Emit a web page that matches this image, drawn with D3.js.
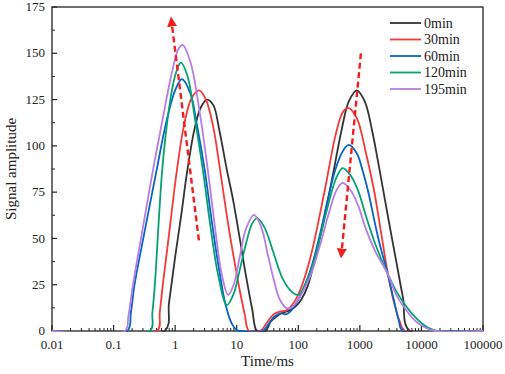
<!DOCTYPE html>
<html>
<head>
<script src="https://d3js.org/d3.v7.min.js"></script>
<style>
  body { margin: 0; background: #fff; }
</style>
</head>
<body>
<div id="chart"></div>
<script>
// series: [time in ms, signal amplitude]
var s0min = [[0.01,0],[0.676,0],[0.794,15],[1,40],[1.26,63],[1.58,87],[2.09,110],[2.63,121],[3.31,125],[4.17,122],[5.25,108],[6.92,87],[8.71,71],[11.2,50],[14.1,30],[17.8,12],[21.4,0],[29.5,0],[35.5,5],[44.7,8],[56.2,10],[70.8,11],[89.1,13],[112,17],[141,24],[200,43],[282,66],[363,84],[501,108],[661,124],[891,130],[1202,124],[1585,108],[2089,87],[2818,63],[3981,36],[5012,18],[6457,0],[100000,0]];
var s30min = [[0.01,0],[0.507,0],[0.562,10],[0.631,25],[0.794,52],[1.07,87],[1.41,112],[1.86,126],[2.45,130],[3.16,125],[4.17,110],[5.37,87],[7.08,60],[8.91,40],[11.2,22],[13.5,9],[15.8,0],[24,0],[31.6,5],[39.8,9],[50.1,10.5],[63.1,11],[79.4,14],[107,22],[158,40],[269,76],[398,105],[525,118],[646,120.5],[891,115],[1259,96],[1698,76],[2239,52],[2818,32],[3548,16],[4467,5],[5370,0],[100000,0]];
var s60min = [[0.01,0],[0.166,0],[0.191,10],[0.219,25],[0.316,53],[0.501,87],[0.708,112],[1,130],[1.29,136],[1.78,128],[2.24,112],[3.02,87],[3.98,58],[5.25,32],[6.61,14],[8.32,4],[10,0.5],[11.2,0],[26.3,0],[33.1,4],[41.7,8],[52.5,9.5],[63.1,9],[74.1,10.5],[100,17],[158,33],[224,52],[302,71],[398,87],[525,97],[661,100.5],[891,96],[1122,86],[1349,76],[1995,50],[2818,31],[3548,17],[4266,6],[5012,0],[100000,0]];
var s120min = [[0.01,0],[0.389,0],[0.427,10],[0.468,25],[0.617,87],[0.794,120],[1,138],[1.24,145],[1.58,138],[2.09,115],[2.82,87],[3.8,55],[5.01,30],[6.92,14],[8.91,20],[11.2,33],[14.1,47],[17.8,58],[21.4,61],[28.2,56],[39.8,42],[56.2,28],[79.4,21],[100,19.5],[158,32],[224,50],[316,70],[417,83],[525,88],[708,84],[933,76],[1259,62],[1778,47],[2818,31],[3981,21],[5754,13],[7943,7.5],[11220,3],[15850,0.5],[18620,0],[100000,0]];
var s195min = [[0.01,0],[0.153,0],[0.174,8],[0.207,25],[0.282,51],[0.437,87],[0.631,115],[0.891,140],[1.12,152],[1.32,154.5],[1.78,145],[2.51,118],[3.39,87],[4.47,55],[5.62,32],[7.24,19.5],[8.91,25],[11.2,40],[14.1,55],[19.1,62.7],[25.1,56],[31.6,42],[39.8,28],[50.1,17],[64.6,12.4],[79.4,13],[100,17],[158,30],[224,46],[316,64],[417,76],[525,80],[708,76],[933,68],[1259,55],[1778,43],[2818,31],[3981,19],[5754,11],[7943,5.5],[11220,2],[16600,0],[100000,0]];

var seriesNames = ["0min", "30min", "60min", "120min", "195min"];
var seriesData = [s0min, s30min, s60min, s120min, s195min];
var colors = ["#333333", "#f53838", "#0763c4", "#06a172", "#b77de6"];

var xTicks = [0.01, 0.1, 1, 10, 100, 1000, 10000, 100000];
var yTicks = [0, 25, 50, 75, 100, 125, 150, 175];

// dashed arrows: [from time, from amp, to time, to amp]
var arrows = [[2.43, 49, 0.89, 165], [1040, 150, 510, 44]];

var FONT = "'Liberation Serif', 'Times New Roman', serif";

var margin = { top: 7, right: 22, bottom: 43, left: 52 };
var width = 505 - margin.left - margin.right;
var height = 374 - margin.top - margin.bottom;

var svg = d3.select("#chart").append("svg")
  .attr("width", 505).attr("height", 374)
  .attr("font-family", FONT);

var defs = svg.append("defs");
defs.append("marker")
  .attr("id", "ah")
  .attr("viewBox", "0 0 10 10")
  .attr("refX", 1).attr("refY", 5)
  .attr("markerWidth", 4.2).attr("markerHeight", 4.2)
  .attr("markerUnits", "strokeWidth")
  .attr("orient", "auto")
  .append("path").attr("d", "M0,0L10,5L0,10Z").attr("fill", "#f01e1e");

var g = svg.append("g").attr("transform", "translate(" + margin.left + "," + margin.top + ")");

var x = d3.scaleLog().domain([0.01, 100000]).range([0, width]);
var y = d3.scaleLinear().domain([0, 175]).range([height, 0]);

// frame
g.append("rect")
  .attr("width", width).attr("height", height)
  .attr("fill", "none").attr("stroke", "#222").attr("stroke-width", 1.3);

// x axis, ticks inward
var minorX = [];
for (var e = -2; e < 5; e++) {
  for (var k = 2; k <= 9; k++) minorX.push(k * Math.pow(10, e));
}
var xAxis = g.append("g").attr("transform", "translate(0," + height + ")");
xAxis.selectAll("line.minor").data(minorX).enter().append("line")
  .attr("x1", function(d) { return x(d); }).attr("x2", function(d) { return x(d); })
  .attr("y1", 0).attr("y2", -3).attr("stroke", "#222").attr("stroke-width", 1);
xAxis.selectAll("line.major").data(xTicks).enter().append("line")
  .attr("x1", function(d) { return x(d); }).attr("x2", function(d) { return x(d); })
  .attr("y1", 0).attr("y2", -6).attr("stroke", "#222").attr("stroke-width", 1.2);
xAxis.selectAll("text").data(xTicks).enter().append("text")
  .attr("x", function(d) { return x(d); })
  .attr("y", 18)
  .attr("text-anchor", "middle")
  .attr("font-size", "13px")
  .attr("fill", "#222")
  .text(function(d) { return String(d); });

// y axis
var minorY = d3.range(12.5, 175, 25);
var yAxis = g.append("g");
yAxis.selectAll("line.minor").data(minorY).enter().append("line")
  .attr("x1", 0).attr("x2", 3)
  .attr("y1", function(d) { return y(d); }).attr("y2", function(d) { return y(d); })
  .attr("stroke", "#222").attr("stroke-width", 1);
yAxis.selectAll("line.major").data(yTicks).enter().append("line")
  .attr("x1", 0).attr("x2", 5)
  .attr("y1", function(d) { return y(d); }).attr("y2", function(d) { return y(d); })
  .attr("stroke", "#222").attr("stroke-width", 1.2);
yAxis.selectAll("text").data(yTicks).enter().append("text")
  .attr("x", -7)
  .attr("y", function(d) { return y(d); })
  .attr("dy", "0.32em")
  .attr("text-anchor", "end")
  .attr("font-size", "13px")
  .attr("fill", "#222")
  .text(function(d) { return d; });

// curves, drawn over the frame so the zero stretches show on the axis
var line = d3.line()
  .x(function(d) { return x(d[0]); })
  .y(function(d) { return y(d[1]); })
  .curve(d3.curveCatmullRom.alpha(0.5));

g.append("clipPath").attr("id", "clip")
  .append("rect").attr("x", 0).attr("y", -10).attr("width", width).attr("height", height + 11);

seriesData.forEach(function(s, i) {
  g.append("path")
    .datum(s)
    .attr("d", line)
    .attr("clip-path", "url(#clip)")
    .attr("fill", "none")
    .attr("stroke", colors[i])
    .attr("stroke-width", 1.8);
});

// arrows
arrows.forEach(function(a) {
  g.append("line")
    .attr("x1", x(a[0])).attr("y1", y(a[1]))
    .attr("x2", x(a[2])).attr("y2", y(a[3]))
    .attr("stroke", "#f01e1e")
    .attr("stroke-width", 2.4)
    .attr("stroke-dasharray", "6,3.5")
    .attr("marker-end", "url(#ah)");
});

// axis titles
svg.append("text")
  .attr("x", margin.left + width / 2)
  .attr("y", 366)
  .attr("text-anchor", "middle")
  .attr("font-size", "15px")
  .attr("fill", "#222")
  .text("Time/ms");

svg.append("text")
  .attr("transform", "translate(16," + (margin.top + height / 2) + ") rotate(-90)")
  .attr("text-anchor", "middle")
  .attr("font-size", "15px")
  .attr("fill", "#222")
  .text("Signal amplitude");

// legend
var legend = g.append("g").attr("transform", "translate(338,16)");
seriesNames.forEach(function(name, i) {
  var row = legend.append("g").attr("transform", "translate(0," + (i * 16.5) + ")");
  row.append("line")
    .attr("x1", 0).attr("x2", 31)
    .attr("stroke", colors[i]).attr("stroke-width", 1.8);
  row.append("text")
    .attr("x", 34).attr("dy", "0.35em")
    .attr("font-size", "14px")
    .attr("fill", "#222")
    .text(name);
});
</script>
</body>
</html>
